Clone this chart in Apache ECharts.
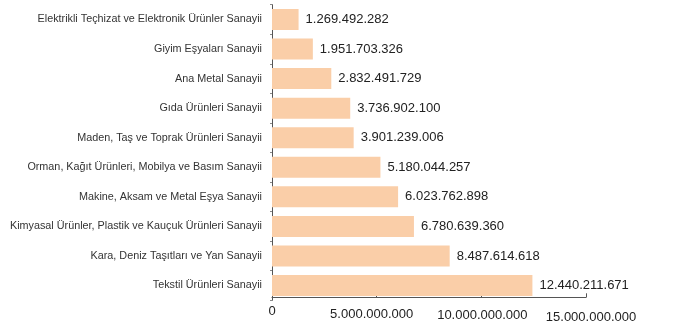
<!DOCTYPE html>
<html>
<head>
<meta charset="utf-8">
<script src="https://cdn.jsdelivr.net/npm/echarts@6/dist/echarts.min.js"></script>
<style>
  html, body { margin: 0; padding: 0; background: #fff; }
  #chart { width: 681px; height: 324px; }
</style>
</head>
<body>
<div id="chart"></div>
<script>
// Sectors, listed top to bottom as they appear on the chart
const sectors = [
  'Elektrikli Teçhizat ve Elektronik Ürünler Sanayii',
  'Giyim Eşyaları Sanayii',
  'Ana Metal Sanayii',
  'Gıda Ürünleri Sanayii',
  'Maden, Taş ve Toprak Ürünleri Sanayii',
  'Orman, Kağıt Ürünleri, Mobilya ve Basım Sanayii',
  'Makine, Aksam ve Metal Eşya Sanayii',
  'Kimyasal Ürünler, Plastik ve Kauçuk Ürünleri Sanayii',
  'Kara, Deniz Taşıtları ve Yan Sanayii',
  'Tekstil Ürünleri Sanayii'
];

const amounts = [
  1269492282,
  1951703326,
  2832491729,
  3736902100,
  3901239006,
  5180044257,
  6023762898,
  6780639360,
  8487614618,
  12440211671
];

// Value axis range and ticks
const axisMin = 0;
const axisMax = 15000000000;
const axisStep = 5000000000;

// Turkish style thousands separator: 12.440.211.671
function fmt(v) {
  return String(Math.round(v)).replace(/\B(?=(\d{3})+(?!\d))/g, '.');
}

// Each tick label sits a little lower than the one before it
const tickRich = {
  t0: { padding: [0, 0, 0, 0] },
  t1: { padding: [3, 10, 0, 0] },
  t2: { padding: [4, 0, 0, 2] },
  t3: { padding: [6, 0, 0, 10] }
};

const chart = echarts.init(document.getElementById('chart'), null, { renderer: 'canvas' });

chart.setOption({
  animation: false,
  backgroundColor: '#ffffff',
  grid: {
    left: 272, right: 95, top: 4.7, bottom: 23.7,
    containLabel: false,
    outerBoundsMode: 'none'
  },
  xAxis: {
    type: 'value',
    min: axisMin,
    max: axisMax,
    interval: axisStep,
    offset: -3,
    splitLine: { show: false },
    axisLine: { show: true, lineStyle: { color: '#555', width: 1 } },
    axisTick: { show: true, inside: true, length: 4, lineStyle: { color: '#555' } },
    axisLabel: {
      color: '#222',
      fontFamily: 'Liberation Sans, Arial, sans-serif',
      fontSize: 13,
      margin: 8,
      verticalAlign: 'top',
      formatter: (v, i) => '{t' + i + '|' + fmt(v) + '}',
      rich: tickRich
    }
  },
  yAxis: {
    type: 'category',
    inverse: true,
    data: sectors,
    axisLine: { show: true, lineStyle: { color: '#555', width: 1 } },
    axisTick: { show: true, length: 2, lineStyle: { color: '#888' } },
    axisLabel: {
      color: '#333',
      fontFamily: 'Liberation Sans, Arial, sans-serif',
      fontSize: 10.8,
      margin: 10
    }
  },
  series: [{
    type: 'bar',
    data: amounts,
    barCategoryGap: '29%',
    itemStyle: { color: '#FACEA8' },
    label: {
      show: true,
      position: 'right',
      distance: 7,
      color: '#222',
      fontFamily: 'Liberation Sans, Arial, sans-serif',
      fontSize: 13,
      formatter: p => fmt(p.value)
    }
  }]
});
</script>
</body>
</html>
